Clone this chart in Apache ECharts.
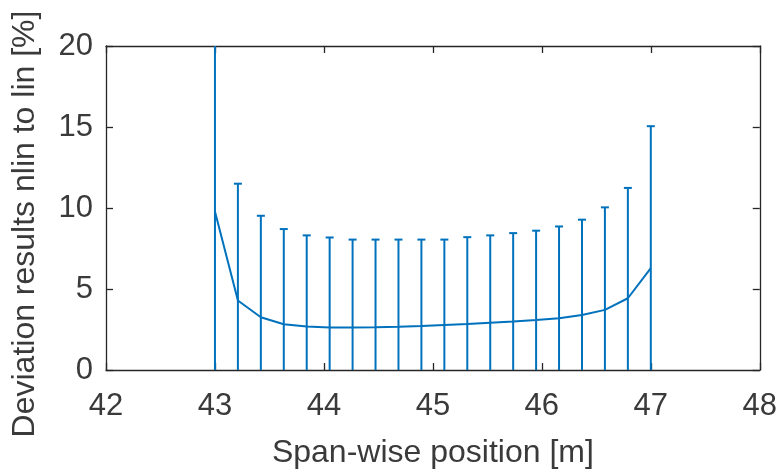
<!DOCTYPE html>
<html>
<head>
<meta charset="utf-8">
<script src="https://cdn.jsdelivr.net/npm/echarts@6/dist/echarts.min.js"></script>
<style>
html,body{margin:0;padding:0;background:#fff;}
#chart{width:780px;height:476px;}
</style>
</head>
<body>
<div id="chart"></div>
<script>
// Span-wise positions [m]
const positions = [43, 43.2105, 43.4211, 43.6316, 43.8421, 44.0526, 44.2632, 44.4737, 44.6842, 44.8947,
                   45.1053, 45.3158, 45.5263, 45.7368, 45.9474, 46.1579, 46.3684, 46.5789, 46.7895, 47];
// Mean deviation [%]
const meanDev = [9.79, 4.29, 3.26, 2.82, 2.68, 2.63, 2.62, 2.64, 2.67, 2.71,
                 2.78, 2.84, 2.92, 2.99, 3.08, 3.19, 3.39, 3.71, 4.43, 6.29];
// Upper end of the error bars [%]
const upperDev = [25.0, 11.5, 9.52, 8.70, 8.31, 8.18, 8.05, 8.05, 8.05, 8.05,
                  8.05, 8.20, 8.31, 8.45, 8.60, 8.86, 9.28, 10.04, 11.24, 15.05];
// Lower end of the error bars [%] (visible part reaches the x-axis)
const lowerDev = [0, 0, 0, 0, 0, 0, 0, 0, 0, 0, 0, 0, 0, 0, 0, 0, 0, 0, 0, 0];

const xTicks = [42, 43, 44, 45, 46, 47, 48];
const yTicks = [0, 5, 10, 15, 20];

const AX = '#262626';
const TXT = '#3a3a3a';
const BLUE = '#0072BD';
const FONT = '"Liberation Sans", Arial, Helvetica, sans-serif';

const chart = echarts.init(document.getElementById('chart'), null, {renderer: 'canvas'});

const lineData = positions.map((x, i) => [x, meanDev[i]]);
const errData = positions.map((x, i) => [x, lowerDev[i], upperDev[i]]);

function axisCommon(extra) {
  return Object.assign({
    type: 'value',
    axisLine: {show: true, onZero: false, lineStyle: {color: AX, width: 1.3}},
    axisTick: {show: true, inside: true, length: 7, lineStyle: {color: AX, width: 1.3}},
    splitLine: {show: false},
    axisLabel: {show: false}
  }, extra);
}

chart.setOption({
  animation: false,
  backgroundColor: '#fff',
  grid: {left: 106, right: 19, top: 46, bottom: 106, containLabel: false},
  xAxis: [
    axisCommon({
      position: 'bottom', min: xTicks[0], max: xTicks[xTicks.length - 1], interval: 1,
      axisLabel: {show: true, color: TXT, fontSize: 31, fontFamily: FONT, margin: 21},
      name: 'Span-wise position [m]', nameLocation: 'middle', nameGap: 67,
      nameTextStyle: {color: TXT, fontSize: 32, fontFamily: FONT}
    }),
    axisCommon({position: 'top', min: xTicks[0], max: xTicks[xTicks.length - 1], interval: 1})
  ],
  yAxis: [
    axisCommon({
      position: 'left', min: yTicks[0], max: yTicks[yTicks.length - 1], interval: 5,
      axisLabel: {show: true, color: TXT, fontSize: 31, fontFamily: FONT, margin: 13}
    }),
    axisCommon({position: 'right', min: yTicks[0], max: yTicks[yTicks.length - 1], interval: 5})
  ],
  graphic: [{
    type: 'text',
    x: 25, y: 224,
    rotation: Math.PI / 2,
    style: {
      text: 'Deviation results nlin to lin [%]',
      fill: TXT, font: '32px ' + FONT,
      textAlign: 'center', textVerticalAlign: 'middle'
    }
  }],
  series: [
    {
      type: 'custom',
      xAxisIndex: 0, yAxisIndex: 0,
      data: errData,
      z: 3,
      renderItem: function (params, api) {
        const x = api.value(0), lo = api.value(1), hi = api.value(2);
        const cs = params.coordSys;
        const pLo = api.coord([x, lo]);
        const pHi = api.coord([x, hi]);
        let topY = pHi[1];
        let clipped = false;
        if (topY < cs.y) { topY = cs.y; clipped = true; }
        let botY = Math.min(pLo[1], cs.y + cs.height);
        const style = {stroke: BLUE, lineWidth: 2};
        const children = [{
          type: 'line',
          shape: {x1: pLo[0], y1: botY, x2: pHi[0], y2: topY},
          style: style
        }];
        if (!clipped) {
          children.push({
            type: 'line',
            shape: {x1: pHi[0] - 4, y1: topY, x2: pHi[0] + 4, y2: topY},
            style: style
          });
        }
        return {type: 'group', children: children};
      }
    },
    {
      type: 'line',
      xAxisIndex: 0, yAxisIndex: 0,
      data: lineData,
      showSymbol: false,
      symbol: 'none',
      z: 4,
      lineStyle: {color: BLUE, width: 2}
    }
  ]
});
</script>
</body>
</html>
